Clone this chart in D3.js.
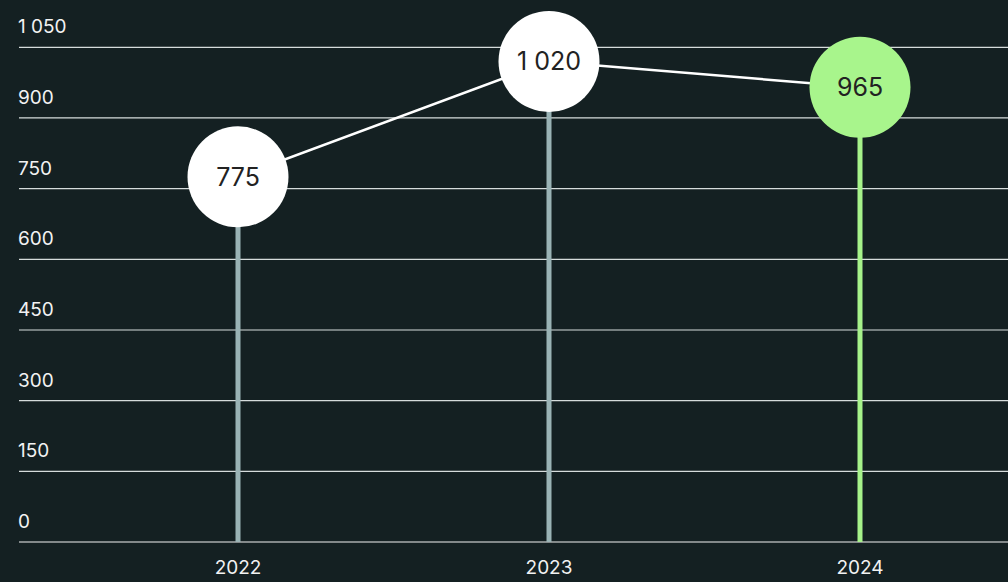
<!DOCTYPE html>
<html>
<head>
<meta charset="utf-8">
<script src="https://cdn.jsdelivr.net/npm/d3@7"></script>
<style>
  html, body { margin: 0; padding: 0; background: #142022; }
  svg { display: block; }
  text { font-family: Inter, "Noto Sans", sans-serif; }
</style>
</head>
<body>
<svg id="chart" width="1008" height="582"></svg>
<script>
const years = ["2022", "2023", "2024"];
const values = [775, 1020, 965];
const yTicks = [0, 150, 300, 450, 600, 750, 900, 1050];
const highlightYear = "2024";

const W = 1008, H = 582;
const svg = d3.select("#chart");
svg.append("rect").attr("width", W).attr("height", H).attr("fill", "#142022");

const y = d3.scaleLinear().domain([0, 1050]).range([542, 47.3]);
const x = d3.scalePoint().domain(years).range([238, 860]);

// thousands separated by a space
const fmt = v => d3.format(",")(v).replace(/,/g, " ");

// horizontal grid + tick labels
const grid = svg.append("g");
grid.selectAll("line").data(yTicks).join("line")
  .attr("x1", 19).attr("x2", W)
  .attr("y1", d => y(d)).attr("y2", d => y(d))
  .attr("stroke", d => d === 0 ? "#f2f2f2" : "#d6dcdc")
  .attr("stroke-width", 1.2);
grid.selectAll("text").data(yTicks).join("text")
  .attr("x", 18).attr("y", d => y(d) - 14)
  .attr("fill", "#f2f2f2")
  .attr("font-size", 19)
  .attr("xml:space", "preserve")
  .style("white-space", "pre")
  .text(d => fmt(d));

// x axis labels
svg.append("g").selectAll("text").data(years).join("text")
  .attr("x", d => x(d)).attr("y", 574)
  .attr("text-anchor", "middle")
  .attr("fill", "#f2f2f2")
  .attr("font-size", 19)
  .text(d => d);

const data = years.map((yr, i) => ({ year: yr, value: values[i] }));
const r = 50.5;

// stems
svg.append("g").selectAll("line").data(data).join("line")
  .attr("x1", d => x(d.year)).attr("x2", d => x(d.year))
  .attr("y1", y(0)).attr("y2", d => y(d.value))
  .attr("stroke", d => d.year === highlightYear ? "#a6f28a" : "#9ab3b5")
  .attr("stroke-width", 5);

// connecting line
svg.append("path")
  .datum(data)
  .attr("fill", "none")
  .attr("stroke", "#ffffff")
  .attr("stroke-width", 2.5)
  .attr("d", d3.line().x(d => x(d.year)).y(d => y(d.value)));

// value bubbles
const bubbles = svg.append("g").selectAll("g").data(data).join("g")
  .attr("transform", d => `translate(${x(d.year)},${y(d.value)})`);
bubbles.append("circle")
  .attr("r", r)
  .attr("fill", d => d.year === highlightYear ? "#a8f58c" : "#ffffff");
bubbles.append("text")
  .attr("text-anchor", "middle")
  .attr("dy", "0.36em")
  .attr("fill", "#222222")
  .attr("font-size", 25)
  .style("white-space", "pre")
  .text(d => fmt(d.value));
</script>
</body>
</html>
